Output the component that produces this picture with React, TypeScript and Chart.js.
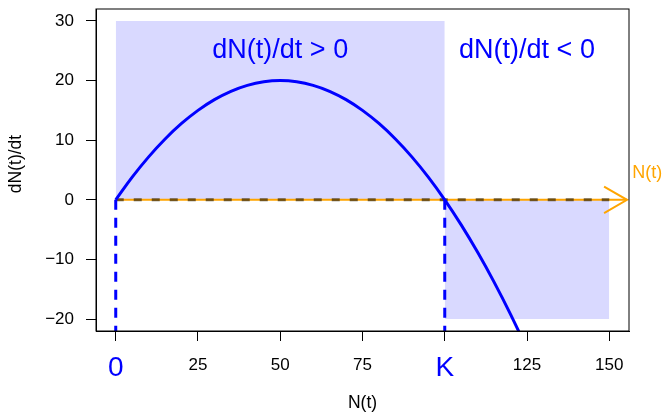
import { useEffect, useRef } from "react";
import { Chart, registerables } from "chart.js";

Chart.register(...registerables);

// Logistic growth rate dN/dt against population size N(t)
const populationN = [0, 5, 10, 15, 20, 25, 30, 35, 40, 45, 50, 55, 60, 65, 70, 75, 80, 85, 90, 95, 100, 105, 110, 115, 120, 125];
const growthRate = [0, 3.8, 7.2, 10.2, 12.8, 15, 16.8, 18.2, 19.2, 19.8, 20, 19.8, 19.2, 18.2, 16.8, 15, 12.8, 10.2, 7.2, 3.8, 0, -4.2, -8.8, -13.8, -19.2, -25];

const xTickValues = [0, 25, 50, 75, 100, 125, 150];
const xTickLabels = ["0", "25", "50", "75", "K", "125", "150"];
const highlightedXTicks = [0, 100];
const yTickValues = [-20, -10, 0, 10, 20, 30];

const carryingCapacity = 100;
const positiveRegionTop = 30;
const negativeRegionBottom = -20;
const negativeRegionEnd = 150;
const zeroLineEnd = 150;
const arrowEnd = 155.4;

const regionLabels = ["dN(t)/dt > 0", "dN(t)/dt < 0"];
const regionLabelX = [50, 125];
const regionLabelY = 25;
const arrowLabel = "N(t)";
const arrowLabelPos = { x: 157, y: 4.5 };

const xLimits = { min: -6, max: 156 };
const yLimits = { min: -22, max: 32 };

const FONT = "'Liberation Sans', Arial, Helvetica, sans-serif";
const BLUE = "#0000ff";
const ORANGE = "#ffa500";
const SHADE = "rgba(0, 0, 255, 0.15)";

const pts = (xs: number[], ys: number[]) => xs.map((v, i) => ({ x: v, y: ys[i] }));

const decorations = {
  id: "decorations",
  afterDatasetsDraw(chart: any) {
    const { ctx, scales } = chart;
    const x = scales.x;
    const y = scales.y;
    ctx.save();

    // arrowhead on the N(t) axis arrow
    const tipX = x.getPixelForValue(arrowEnd);
    const tipY = y.getPixelForValue(0);
    const len = 26.5;
    const ang = Math.PI / 6;
    ctx.strokeStyle = ORANGE;
    ctx.lineWidth = 2;
    ctx.beginPath();
    ctx.moveTo(tipX - len * Math.cos(ang), tipY - len * Math.sin(ang));
    ctx.lineTo(tipX, tipY);
    ctx.lineTo(tipX - len * Math.cos(ang), tipY + len * Math.sin(ang));
    ctx.stroke();

    // region captions
    ctx.fillStyle = BLUE;
    ctx.font = `27px ${FONT}`;
    ctx.textAlign = "center";
    ctx.textBaseline = "middle";
    regionLabels.forEach((t, i) => {
      ctx.fillText(t, x.getPixelForValue(regionLabelX[i]), y.getPixelForValue(regionLabelY));
    });

    // arrow caption
    ctx.fillStyle = ORANGE;
    ctx.font = `18px ${FONT}`;
    ctx.textAlign = "left";
    ctx.fillText(arrowLabel, x.getPixelForValue(arrowLabelPos.x), y.getPixelForValue(arrowLabelPos.y));
    ctx.restore();
  },
  afterDraw(chart: any) {
    const { ctx, chartArea } = chart;
    ctx.save();
    // full frame around the plotting region
    ctx.strokeStyle = "#000";
    ctx.lineWidth = 1;
    ctx.strokeRect(chartArea.left, chartArea.top, chartArea.right - chartArea.left, chartArea.bottom - chartArea.top);

    // axis titles
    ctx.fillStyle = "#000";
    ctx.font = `17.5px ${FONT}`;
    ctx.textAlign = "center";
    ctx.textBaseline = "middle";
    ctx.fillText("N(t)", (chartArea.left + chartArea.right) / 2, 403);
    ctx.translate(16, (chartArea.top + chartArea.bottom) / 2 - 6);
    ctx.rotate(-Math.PI / 2);
    ctx.fillText("dN(t)/dt", 0, 0);
    ctx.restore();
  },
};

export default function App() {
  const canvasRef = useRef<HTMLCanvasElement | null>(null);

  useEffect(() => {
    document.body.style.margin = "0";
    const canvas = canvasRef.current;
    if (!canvas) return;

    const chart = new Chart(canvas, {
      type: "line",
      data: {
        datasets: [
          {
            data: pts([0, carryingCapacity], [positiveRegionTop, positiveRegionTop]),
            fill: "origin",
            backgroundColor: SHADE,
            borderWidth: 0,
            pointRadius: 0,
            order: 10,
          },
          {
            data: pts([carryingCapacity, negativeRegionEnd], [negativeRegionBottom, negativeRegionBottom]),
            fill: "origin",
            backgroundColor: SHADE,
            borderWidth: 0,
            pointRadius: 0,
            order: 9,
          },
          {
            data: pts([0, arrowEnd], [0, 0]),
            borderColor: ORANGE,
            borderWidth: 2,
            pointRadius: 0,
            order: 6,
          },
          {
            data: pts([0, zeroLineEnd], [0, 0]),
            borderColor: "rgba(40, 30, 10, 0.65)",
            borderWidth: 3,
            borderDash: [8, 10],
            pointRadius: 0,
            order: 5,
          },
          {
            data: pts([0, 0], [0, yLimits.min]),
            borderColor: BLUE,
            borderWidth: 3,
            borderDash: [10, 8],
            pointRadius: 0,
            order: 4,
          },
          {
            data: pts([carryingCapacity, carryingCapacity], [0, yLimits.min]),
            borderColor: BLUE,
            borderWidth: 3,
            borderDash: [10, 8],
            pointRadius: 0,
            order: 4,
          },
          {
            data: pts(populationN, growthRate),
            borderColor: BLUE,
            borderWidth: 3,
            tension: 0.4,
            pointRadius: 0,
            order: 3,
          },
        ],
      },
      options: {
        animation: false,
        responsive: false,
        devicePixelRatio: 1,
        clip: 0,
        layout: { padding: { left: 0, top: 9, right: 33, bottom: 0 } },
        plugins: {
          legend: { display: false },
          tooltip: { enabled: false },
        },
        scales: {
          x: {
            type: "linear",
            min: xLimits.min,
            max: xLimits.max,
            afterBuildTicks: (scale: any) => {
              scale.ticks = xTickValues.map((v) => ({ value: v }));
            },
            afterFit: (scale: any) => {
              scale.height = 82;
              scale.paddingLeft = 0;
              scale.paddingRight = 0;
            },
            grid: {
              display: true,
              drawOnChartArea: false,
              drawTicks: true,
              tickLength: 10,
              color: "#000",
              lineWidth: 1,
            },
            border: { display: true, color: "#000", width: 1 },
            ticks: {
              autoSkip: false,
              maxRotation: 0,
              minRotation: 0,
              padding: 14,
              callback: (v: any) => {
                const i = xTickValues.indexOf(Number(v));
                return i >= 0 ? xTickLabels[i] : "";
              },
              color: (c: any) => (highlightedXTicks.includes(c.tick?.value) ? BLUE : "#000"),
              font: (c: any) =>
                highlightedXTicks.includes(c.tick?.value)
                  ? { family: FONT, size: 28, lineHeight: 0.94 }
                  : { family: FONT, size: 17, lineHeight: 1.2 },
            },
          },
          y: {
            type: "linear",
            min: yLimits.min,
            max: yLimits.max,
            afterBuildTicks: (scale: any) => {
              scale.ticks = yTickValues.map((v) => ({ value: v }));
            },
            afterFit: (scale: any) => {
              scale.width = 96;
              scale.paddingTop = 0;
              scale.paddingBottom = 0;
            },
            grid: {
              display: true,
              drawOnChartArea: false,
              drawTicks: true,
              tickLength: 10,
              color: "#000",
              lineWidth: 1,
            },
            border: { display: true, color: "#000", width: 1 },
            ticks: {
              autoSkip: false,
              padding: 12,
              color: "#000",
              font: { family: FONT, size: 17 },
              callback: (v: any) => {
                const n = Number(v);
                return n < 0 ? "\u2212" + Math.abs(n) : String(n);
              },
            },
          },
        },
      },
      plugins: [decorations],
    } as any);

    return () => chart.destroy();
  }, []);

  return (
    <div style={{ width: 662, height: 413, position: "relative" }}>
      <canvas ref={canvasRef} width={662} height={413} style={{ display: "block" }} />
    </div>
  );
}
